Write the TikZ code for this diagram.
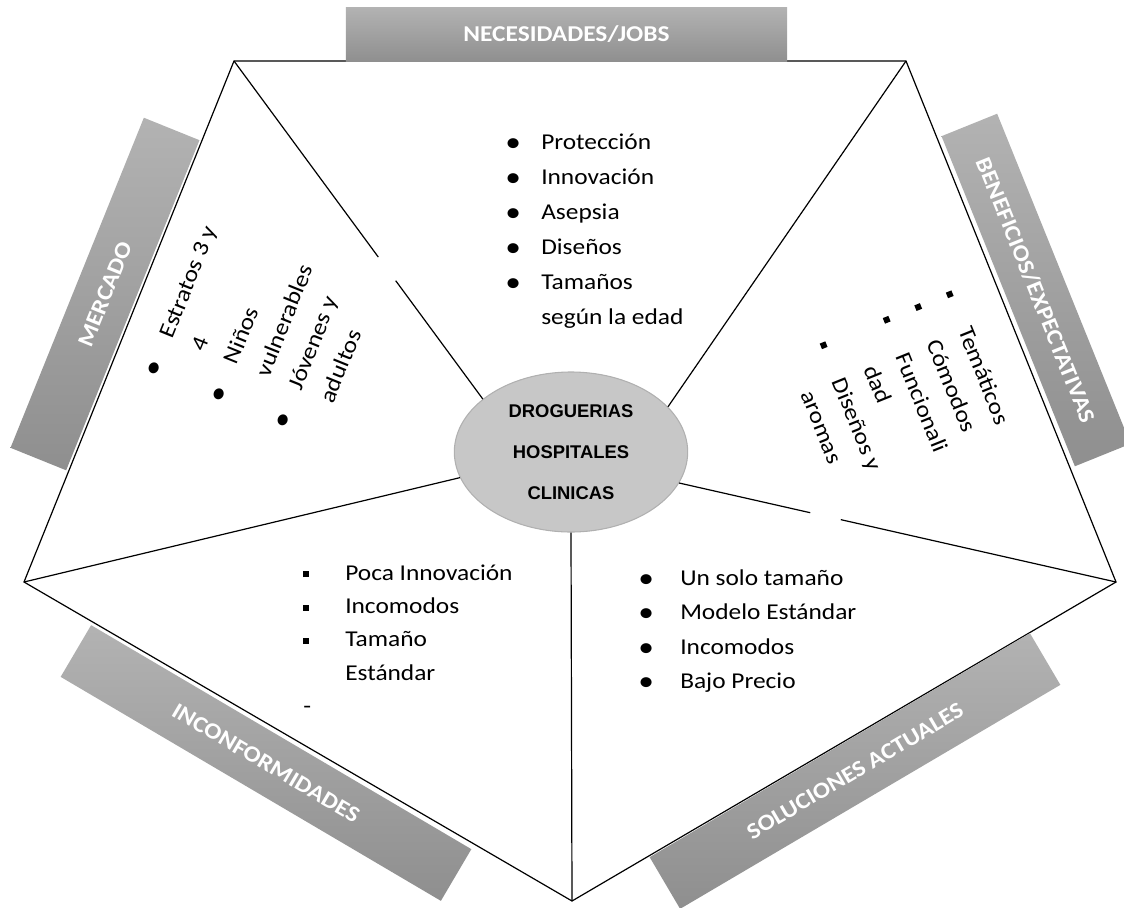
\documentclass[tikz,border=0pt]{standalone}
\usepackage{fontspec}
\setmainfont{Carlito}[FakeStretch=1.12]
\newfontfamily\hubfont{Liberation Sans}
\usetikzlibrary{calc,positioning,shapes.geometric}
\newcommand{\rndbul}{\raisebox{-1.5pt}{\fontsize{21}{21}\selectfont •}}
\newcommand{\sqbul}{\rule[2.2pt]{4.5pt}{4.5pt}}
\tikzset{
  rim/.style={line width=0.9pt},
  tag/.style 2 args={rectangle, minimum width=#1, minimum height=#2, inner sep=0pt,
    top color=gray!60, bottom color=gray!88, text=white,
    font=\bfseries\fontsize{17}{20}\selectfont},
  hubnode/.style={ellipse, minimum width=175pt, minimum height=120pt, inner sep=0pt,
    fill=gray!44, draw=gray!62, line width=0.8pt, align=center,
    font=\hubfont\bfseries\fontsize{13.8}{30.75}\selectfont},
  bullets/.style={font=\fontsize{17}{#1}\selectfont, inner sep=0pt, anchor=base west},
  bullets/.default=26pt
}

\begin{document}
\begin{tikzpicture}[x=0.75pt, y=-0.75pt]
  \useasboundingbox (0,0) rectangle (1124,907);
  % corners of the pentagon
  \coordinate (tl) at (234,61);
  \coordinate (tr) at (906,61);
  \coordinate (rt) at (1116,582);
  \coordinate (bt) at (572,901);
  \coordinate (lf) at (24,582);
  \draw[rim] (tl) -- (tr) -- (rt) -- (bt) -- (lf) -- cycle;
  %
  \node[tag={331pt}{41pt}] (jobs) at (566.5,34.5) {NECESIDADES/JOBS};
  \node[tag={267pt}{45pt}, rotate=68] (market) at (105,294) {MERCADO};
  \node[tag={267pt}{45pt}, rotate=-68] (gains) at (1036,290) {BENEFICIOS/EXPECTATIVAS};
  \node[tag={331pt}{45pt}, rotate=-30.5] (pains) at (266,763) {INCONFORMIDADES};
  \node[tag={331pt}{45pt}, rotate=30.5] (current) at (855,771) {SOLUCIONES ACTUALES};
  %
  \node[hubnode] (hub) at (571,452) {DROGUERIAS\\HOSPITALES\\CLINICAS};
  \draw[rim] (tl) -- ($(tl)!0.58!(hub.149)$) ($(tl)!0.65!(hub.149)$) -- (hub.149); % broken
  \draw[rim] (tr) -- (hub.25);
  \draw[rim] (rt) -- ($(rt)!0.63!(hub.344)$) ($(rt)!0.70!(hub.344)$) -- (hub.344); % broken
  \draw[rim] (lf) -- (hub.193);
  \draw[rim] (bt) -- (hub.south);
  %
  \node[bullets=26.25pt] (needs) at (505,149) {%
    \begin{tabular}[t]{@{}p{27pt}@{}l@{}}
      \rndbul & Protección\\
      \rndbul & Innovación\\
      \rndbul & Asepsia\\
      \rndbul & Diseños\\
      \rndbul & Tamaños\\
              & según la edad
    \end{tabular}};
  \node[bullets=26pt, rotate=68] (marketlist) at (157,378) {%
    \begin{tabular}[t]{@{}p{31pt}@{}l@{}}
      \rndbul & Estratos 3 y\\
              & 4\\
      \rndbul & Niños\\
              & vulnerables\\
      \rndbul & Jóvenes y\\
              & adultos
    \end{tabular}};
  \node[bullets=25.5pt, rotate=-68] (gainslist) at (943,293.5) {%
    \begin{tabular}[t]{@{}p{30pt}@{}l@{}}
      \sqbul & Temáticos\\
      \sqbul & Cómodos\\
      \sqbul & Funcionali\\
             & dad\\
      \sqbul & Diseños y\\
             & aromas
    \end{tabular}};
  \node[bullets=25.1pt] (painslist) at (303,580) {%
    \begin{tabular}[t]{@{}p{31.5pt}@{}l@{}}
      \sqbul & Poca Innovación\\
      \sqbul & Incomodos\\
      \sqbul & Tamaño\\
             & Estándar\\
      -      &
    \end{tabular}};
  \node[bullets=25.9pt] (currentlist) at (638,585) {%
    \begin{tabular}[t]{@{}p{31.5pt}@{}l@{}}
      \rndbul & Un solo tamaño\\
      \rndbul & Modelo Estándar\\
      \rndbul & Incomodos\\
      \rndbul & Bajo Precio
    \end{tabular}};
\end{tikzpicture}
\end{document}
